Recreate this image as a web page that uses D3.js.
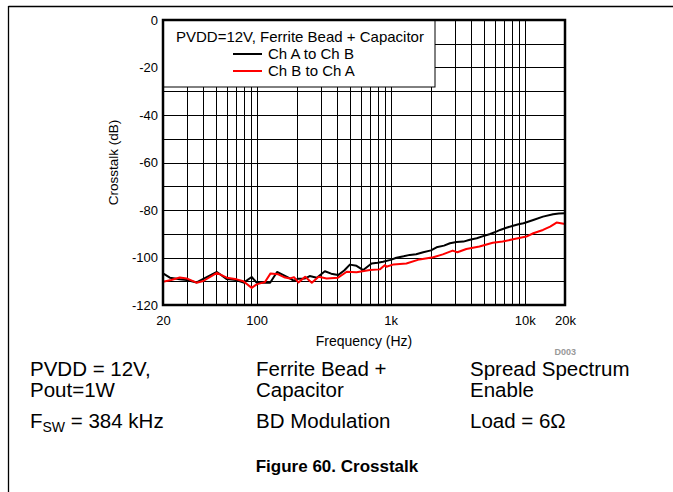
<!DOCTYPE html>
<html>
<head>
<meta charset="utf-8">
<script src="https://cdn.jsdelivr.net/npm/d3@7"></script>
<style>
  body { margin: 0; background: #fff; }
  svg { display: block; font-family: "Liberation Sans", Arial, sans-serif; }
</style>
</head>
<body>
<div id="chart"></div>
<script>
// Ch A to Ch B (black)
const freqA = [20, 22.5, 26.7, 30, 35.6, 40, 50.5, 59.8, 70, 80, 91.8, 100, 115, 126, 142, 160, 177, 190, 205, 230, 249, 281, 323, 360, 405, 450, 496, 556, 624, 720, 800, 877, 1000, 1104, 1250, 1390, 1550, 1750, 2000, 2200, 2500, 2770, 3100, 3490, 3900, 4390, 4900, 5530, 6200, 6560, 7300, 8200, 9000, 9800, 11600, 13700, 16300, 18000, 20000];
const crosstalkA = [-106.7, -108.5, -109.2, -109.5, -110.5, -109, -106.1, -109.1, -109.5, -110.6, -108.2, -110.6, -110.6, -110.6, -106.1, -107.5, -108.8, -109.8, -108.9, -108.8, -107.8, -108.5, -105.8, -106.8, -107.4, -105.5, -103, -103.5, -105.3, -102.5, -102.2, -101.8, -101, -100.1, -99.5, -98.9, -98.6, -97.8, -97, -95.7, -95, -94, -93.5, -93.3, -92.5, -91.9, -91, -90.1, -89, -88.4, -87.5, -86.6, -86, -85.6, -84.2, -82.8, -81.8, -81.5, -81.4];

// Ch B to Ch A (red)
const freqB = [20, 23, 26.7, 30, 35.6, 40, 50.5, 59.8, 71, 79.6, 91.8, 100, 106, 115, 127, 145, 160, 177, 190, 205, 230, 258, 290, 333, 405, 470, 556, 700, 830, 908, 930, 1050, 1310, 1640, 2080, 2450, 2900, 3150, 3670, 4600, 5780, 6850, 8200, 10300, 11600, 13700, 15500, 17300, 20000];
const crosstalkB = [-110.2, -109.5, -108.4, -108.8, -110.6, -109.9, -106.5, -108.5, -109.2, -110, -112.8, -111.3, -110.9, -110.4, -106.7, -107.1, -108.3, -108.8, -108.3, -110.5, -108.1, -110.6, -108.1, -108.8, -108.5, -106, -106.2, -105.3, -105, -103.2, -103.9, -102.9, -102.5, -100.8, -99.9, -98.7, -97.1, -97.8, -96.4, -95.4, -93.8, -93.3, -92.3, -91.2, -89.8, -88.4, -87, -85.3, -85.9];

const xTickValues = [20, 100, 1000, 10000, 20000];
const xTickLabels = ["20", "100", "1k", "10k", "20k"];
const yTickValues = [0, -20, -40, -60, -80, -100, -120];

const legendTitle = "PVDD=12V, Ferrite Bead + Capacitor";
const seriesNames = ["Ch A to Ch B", "Ch B to Ch A"];
const seriesColors = ["#000", "#ff0000"];

const notes = [
  ["PVDD = 12V,", "Pout=1W"],
  ["Ferrite Bead +", "Capacitor"],
  ["Spread Spectrum", "Enable"],
];
const notes2 = ["F|SW| = 384 kHz", "BD Modulation", "Load = 6\u03a9"];

const W = 673, H = 492;
const plot = { left: 163, right: 565, top: 20, bottom: 305 };

const svg = d3
  .select("#chart")
  .append("svg")
  .attr("width", W)
  .attr("height", H);

// page frame
svg.append("line").attr("x1", 8.5).attr("x2", W).attr("y1", 6.5).attr("y2", 6.5)
  .attr("stroke", "#000").attr("stroke-width", 1.3);
svg.append("line").attr("x1", 8.5).attr("x2", 8.5).attr("y1", 6).attr("y2", H)
  .attr("stroke", "#000").attr("stroke-width", 1.3);

const x = d3.scaleLog().domain([20, 20000]).range([plot.left, plot.right]);
const y = d3.scaleLinear().domain([0, -120]).range([plot.top, plot.bottom]);

// grid
const xGrid = [];
[10, 100, 1000].forEach((dec) => {
  for (let k = 1; k <= 9; k++) {
    const v = dec * k;
    if (v > 20 && v < 20000) xGrid.push(v);
  }
});
xGrid.push(10000);
const yGrid = d3.range(-10, -120, -10);

const grid = svg.append("g").attr("stroke", "#000").attr("stroke-width", 1);
grid.selectAll("line.v")
  .data(xGrid)
  .join("line")
  .attr("class", "v")
  .attr("x1", (d) => Math.round(x(d)) + 0.5)
  .attr("x2", (d) => Math.round(x(d)) + 0.5)
  .attr("y1", plot.top)
  .attr("y2", plot.bottom);
grid.selectAll("line.h")
  .data(yGrid)
  .join("line")
  .attr("class", "h")
  .attr("x1", plot.left)
  .attr("x2", plot.right)
  .attr("y1", (d) => Math.round(y(d)) + 0.5)
  .attr("y2", (d) => Math.round(y(d)) + 0.5);

// curves
const line = d3.line().x((d) => x(d[0])).y((d) => y(d[1]));
const series = [
  d3.zip(freqA, crosstalkA),
  d3.zip(freqB, crosstalkB),
];
svg.append("g")
  .selectAll("path")
  .data(series)
  .join("path")
  .attr("d", line)
  .attr("fill", "none")
  .attr("stroke", (d, i) => seriesColors[i])
  .attr("stroke-width", 2)
  .attr("stroke-linejoin", "round");

// legend
const lg = svg.append("g");
lg.append("rect")
  .attr("x", plot.left).attr("y", plot.top)
  .attr("width", 272).attr("height", 67)
  .attr("fill", "#fff").attr("stroke", "#000").attr("stroke-width", 1);
lg.append("text")
  .attr("x", 176).attr("y", 42)
  .attr("font-size", 15)
  .text(legendTitle);
seriesNames.forEach((name, i) => {
  const ly = 54 + i * 17;
  lg.append("line")
    .attr("x1", 233).attr("x2", 262).attr("y1", ly).attr("y2", ly)
    .attr("stroke", seriesColors[i]).attr("stroke-width", 2);
  lg.append("text")
    .attr("x", 268).attr("y", ly + 5)
    .attr("font-size", 15)
    .text(name);
});

// plot border
svg.append("rect")
  .attr("x", plot.left).attr("y", plot.top)
  .attr("width", plot.right - plot.left).attr("height", plot.bottom - plot.top)
  .attr("fill", "none").attr("stroke", "#000").attr("stroke-width", 2.5);

// axes
const yAxis = svg.append("g")
  .attr("transform", `translate(${plot.left - 2},0)`)
  .call(d3.axisLeft(y).tickValues(yTickValues).tickFormat((d) => String(d)).tickSize(0).tickPadding(3));
yAxis.select(".domain").remove();
yAxis.selectAll("text").attr("font-size", 13).attr("font-family", "Liberation Sans, Arial").attr("fill", "#000");

const xAxis = svg.append("g")
  .attr("transform", `translate(0,${plot.bottom + 11})`)
  .call(d3.axisBottom(x).tickValues(xTickValues).tickFormat((d, i) => xTickLabels[i]).tickSize(0).tickPadding(0));
xAxis.select(".domain").remove();
xAxis.selectAll("text").attr("font-size", 13).attr("font-family", "Liberation Sans, Arial").attr("fill", "#000");

svg.append("text")
  .attr("x", 364).attr("y", 346)
  .attr("text-anchor", "middle").attr("font-size", 14)
  .text("Frequency (Hz)");
svg.append("text")
  .attr("transform", `translate(118,${(plot.top + plot.bottom) / 2}) rotate(-90)`)
  .attr("text-anchor", "middle").attr("font-size", 13.5)
  .text("Crosstalk (dB)");
svg.append("text")
  .attr("x", 576).attr("y", 355)
  .attr("text-anchor", "end").attr("font-size", 9).attr("font-weight", "bold")
  .attr("fill", "#999")
  .text("D003");

// notes under the chart
const colX = [30, 256, 470];
notes.forEach((lines, i) => {
  lines.forEach((t, j) => {
    svg.append("text")
      .attr("x", colX[i]).attr("y", 376 + j * 21)
      .attr("font-size", 20.5)
      .text(t);
  });
});
notes2.forEach((t, i) => {
  const txt = svg.append("text")
    .attr("x", colX[i]).attr("y", 428)
    .attr("font-size", 20.5);
  const parts = t.split("|");
  if (parts.length > 1) {
    txt.append("tspan").text(parts[0]);
    txt.append("tspan").attr("font-size", 14).attr("dy", 4).text(parts[1]);
    txt.append("tspan").attr("dy", -4).text(parts[2]);
  } else {
    txt.text(t);
  }
});

svg.append("text")
  .attr("x", 337).attr("y", 472)
  .attr("text-anchor", "middle").attr("font-size", 17).attr("font-weight", "bold")
  .text("Figure 60. Crosstalk");
</script>
</body>
</html>
